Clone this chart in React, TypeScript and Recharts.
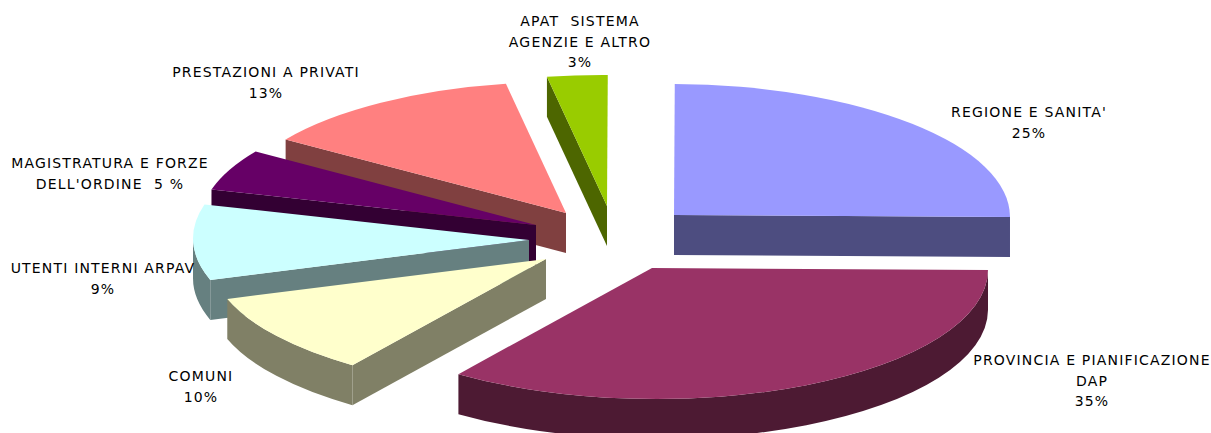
import { PieChart, Pie } from "recharts"

// Slices run counter-clockwise from twelve o'clock, so nearer slices paint over farther ones
const categories = [
  "APAT SISTEMA",
  "PRESTAZIONI A PRIVATI",
  "MAGISTRATURA",
  "UTENTI INTERNI ARPAV",
  "COMUNI",
  "PROVINCIA",
  "REGIONE E SANITA'",
]
const shares = [3, 13, 5, 9, 10, 35, 25]
const labelLines = [
  ["APAT  SISTEMA", "AGENZIE E ALTRO", "3%"],
  ["PRESTAZIONI A PRIVATI", "13%"],
  ["MAGISTRATURA E FORZE", "DELL'ORDINE  5 %"],
  ["UTENTI INTERNI ARPAV", "9%"],
  ["COMUNI", "10%"],
  ["PROVINCIA E PIANIFICAZIONE", "DAP", "35%"],
  ["REGIONE E SANITA'", "25%"],
]

const topColors = ["#99CC00", "#FF8080", "#660066", "#CCFFFF", "#FFFFCC", "#993366", "#9999FF"]
const sideColors = ["#4D6600", "#804040", "#330033", "#668080", "#808066", "#4D1A33", "#4D4D80"]

// How far each slice is pulled out of the pie
const explode = [
  [-67, -9],
  [-108, -2],
  [-138, 10],
  [-145, 25],
  [-128, 44],
  [-22, 53],
  [0, 0],
]
// First-line baseline of each label
const labelAnchors = [
  [580, 26],
  [266, 77],
  [110, 168],
  [103, 273],
  [201, 381],
  [1092, 365],
  [1029, 117],
]

const WIDTH = 1211
const HEIGHT = 433
const CX = 674
const CY = 215
const RADIUS = 336
const SQUASH = 0.39
const DEPTH = 40
const TILT = 0.34
const WARP = 1
const LINE_HEIGHT = 20.5

const rad = (deg: number) => (deg * Math.PI) / 180

// Perspective pulls the left-hand edges slightly toward the vertical axis
const warped = (deg: number) => deg - WARP * Math.sin(rad(2 * (deg - 90)))

function Slice3D(props: any) {
  const { cx, cy, outerRadius, startAngle, endAngle, index } = props
  const [dx, dy] = explode[index]
  const ax = cx + dx
  const ay = cy + dy
  const rx = outerRadius
  const ry = outerRadius * SQUASH
  const cosT = Math.cos(rad(TILT))
  const sinT = Math.sin(rad(TILT))
  const pt = (deg: number, drop = 0): [number, number] => {
    const ex = rx * Math.cos(rad(warped(deg)))
    const ey = -ry * Math.sin(rad(warped(deg)))
    return [ax + ex * cosT - ey * sinT, ay + ex * sinT + ey * cosT + drop]
  }
  const arc = (sweep: number, large = 0) => `A${rx},${ry} ${TILT} ${large} ${sweep}`
  const large = endAngle - startAngle > 180 ? 1 : 0
  const [sx, sy] = pt(startAngle)
  const [ex, ey] = pt(endAngle)
  const top = `M${ax},${ay} L${sx},${sy} ${arc(0, large)} ${ex},${ey} Z`

  // Rim: only the part of the arc on the front half of the ellipse shows
  const rimFrom = Math.max(startAngle, 180)
  const rimTo = Math.min(endAngle, 360)
  let rim = null
  if (rimTo > rimFrom) {
    const [r1x, r1y] = pt(rimFrom)
    const [r2x, r2y] = pt(rimTo)
    rim = `M${r1x},${r1y} ${arc(0)} ${r2x},${r2y} L${r2x},${r2y + DEPTH} ${arc(1)} ${r1x},${r1y + DEPTH} Z`
  }

  // Cut faces: a radial edge is visible only when its normal points toward the viewer
  const cutFace = (deg: number) => {
    const [px, py] = pt(deg)
    return `M${ax},${ay} L${px},${py} L${px},${py + DEPTH} L${ax},${ay + DEPTH} Z`
  }
  const side = sideColors[index]

  return (
    <g>
      {Math.cos(rad(startAngle)) > 0.001 && <path d={cutFace(startAngle)} fill={side} />}
      {Math.cos(rad(endAngle)) < -0.001 && <path d={cutFace(endAngle)} fill={side} />}
      {rim && <path d={rim} fill={side} />}
      <path d={top} fill={topColors[index]} />
    </g>
  )
}

function SliceLabel({ index }: any) {
  const [x, y] = labelAnchors[index]
  return (
    <text
      x={x}
      y={y}
      textAnchor="middle"
      fontFamily="'DejaVu Sans', sans-serif"
      fontSize={14}
      letterSpacing={1.18}
      fill="#000000"
    >
      {labelLines[index].map((line, i) => (
        <tspan key={i} x={x} y={y + i * LINE_HEIGHT} style={{ whiteSpace: "pre" }}>
          {line}
        </tspan>
      ))}
    </text>
  )
}

const data = categories.map((name, i) => ({ name, value: shares[i] }))

export default function App() {
  return (
    <div style={{ position: "fixed", left: 0, top: 0, width: WIDTH, height: HEIGHT, background: "#fff" }}>
      <PieChart width={WIDTH} height={HEIGHT} margin={{ top: 0, right: 0, bottom: 0, left: 0 }}>
        <Pie
          data={data}
          dataKey="value"
          nameKey="name"
          cx={CX}
          cy={CY}
          outerRadius={RADIUS}
          innerRadius={0}
          startAngle={90}
          endAngle={450}
          stroke="none"
          shape={Slice3D}
          label={SliceLabel}
          labelLine={false}
          isAnimationActive={false}
        />
      </PieChart>
    </div>
  )
}
